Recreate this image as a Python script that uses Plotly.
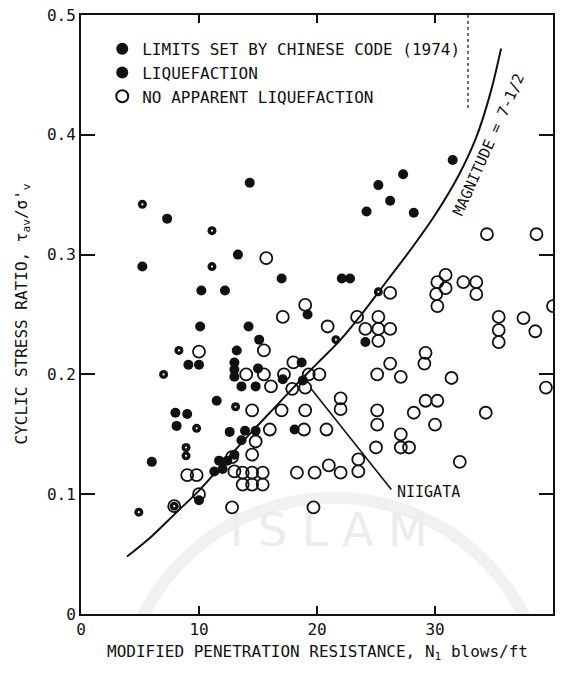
import plotly.graph_objects as go

# Modified SPT resistance N1 (blows/ft) and cyclic stress ratio for each site
liq_n = [5.2, 7.3, 6.0, 10.2, 12.2, 13.3, 10.1, 14.2, 14.3, 15.1, 13.2, 9.1, 10.0,
         13.0, 13.0, 13.0, 15.0, 13.6, 14.8, 11.5, 8.0, 9.0, 8.1, 12.6, 13.9, 14.8,
         13.0, 11.7, 11.3, 12.0, 12.4, 10.0, 17.0, 19.2, 22.1, 22.8, 24.1, 17.1,
         18.7, 18.8, 18.1, 25.2, 27.3, 26.2, 24.2, 28.2, 31.5, 13.6]
liq_r = [0.29, 0.33, 0.127, 0.27, 0.27, 0.30, 0.24, 0.24, 0.36, 0.229, 0.22, 0.208, 0.208,
         0.21, 0.204, 0.198, 0.205, 0.19, 0.19, 0.178, 0.168, 0.167, 0.157, 0.152, 0.153, 0.153,
         0.133, 0.128, 0.119, 0.121, 0.128, 0.095, 0.28, 0.25, 0.28, 0.28, 0.227, 0.196,
         0.21, 0.195, 0.154, 0.358, 0.367, 0.345, 0.336, 0.335, 0.379, 0.145]

code_n = [5.2, 11.1, 11.1, 8.3, 7.0, 8.9, 8.9, 9.8, 7.9, 4.9, 21.6, 25.2, 13.1]
code_r = [0.342, 0.32, 0.29, 0.22, 0.20, 0.139, 0.132, 0.155, 0.09, 0.085, 0.229, 0.269, 0.173]

none_n = [15.7, 19.0, 17.1, 20.9, 23.4, 26.2,
          24.1, 25.2, 26.2, 25.2, 25.2,
          30.9, 30.2, 30.9, 30.1, 30.2,
          32.4, 33.5, 33.5,
          34.4, 38.6, 40.0,
          35.4, 35.4, 35.4, 37.5, 38.5,
          29.2, 29.1, 26.2, 25.1, 27.1, 31.4, 39.4,
          29.2, 30.2, 28.2, 34.3, 30.0,
          25.1, 25.1, 25.0,
          27.1, 27.1, 27.8,
          32.1, 23.5, 23.5, 21.0, 22.0, 18.3, 19.8,
          20.8, 18.9, 16.0, 14.8, 14.5, 12.8,
          13.0, 13.7, 14.5, 15.4, 13.7, 14.5, 15.4,
          19.7, 12.8,
          14.5, 17.0, 19.0, 22.0, 22.0,
          10.0, 9.0, 9.8, 10.0, 7.9,
          14.0, 15.5, 17.2, 18.0, 19.3, 20.2, 19.0, 17.9, 16.1, 15.5]
none_r = [0.297, 0.258, 0.248, 0.24, 0.248, 0.268,
          0.238, 0.248, 0.238, 0.228, 0.238,
          0.283, 0.277, 0.272, 0.267, 0.257,
          0.277, 0.277, 0.267,
          0.317, 0.317, 0.257,
          0.248, 0.237, 0.227, 0.247, 0.236,
          0.218, 0.209, 0.209, 0.20, 0.198, 0.197, 0.189,
          0.178, 0.178, 0.168, 0.168, 0.158,
          0.17, 0.158, 0.139,
          0.15, 0.139, 0.139,
          0.127, 0.129, 0.119, 0.124, 0.118, 0.118, 0.118,
          0.154, 0.154, 0.154, 0.144, 0.133, 0.131,
          0.119, 0.118, 0.118, 0.118, 0.108, 0.108, 0.108,
          0.089, 0.089,
          0.17, 0.17, 0.17, 0.18, 0.171,
          0.219, 0.116, 0.116, 0.10, 0.09,
          0.20, 0.20, 0.20, 0.21, 0.20, 0.20, 0.189, 0.188, 0.19, 0.22]

# Boundary curve for magnitude 7-1/2 earthquakes
curve_n = [3.9, 6.0, 8.0, 10.0, 12.0, 14.0, 16.0, 18.0, 20.0, 22.0, 24.0, 26.0,
           28.0, 30.0, 32.0, 33.5, 34.7, 35.6]
curve_r = [0.048, 0.065, 0.084, 0.103, 0.125, 0.147, 0.168, 0.189, 0.209, 0.229, 0.253,
           0.279, 0.305, 0.333, 0.366, 0.398, 0.435, 0.472]

# Leader line to the Niigata point
niigata_n = [19.5, 26.3]
niigata_r = [0.188, 0.104]

# Dotted marker line near the top edge
dotted_n = [32.8, 32.8]
dotted_r = [0.5, 0.42]

# Watermark lettering position
mark_n = [21.0]
mark_r = [0.066]
mark_text = ["I S L A M"]

x_ticks = [0, 10, 20, 30, 40]
x_labels = ["0", "10", "20", "30", "40"]
y_ticks = [0, 0.1, 0.2, 0.3, 0.4, 0.5]
y_labels = ["0", "0.1", "0.2", "0.3", "0.4", "0.5"]

FONT = "DejaVu Sans Mono"
INK = "#111111"
FAINT = "#ececec"

fig = go.Figure()

# faint watermark ring and lettering drawn first so the data sits on top
fig.add_shape(type="circle", xref="x", yref="y", x0=3.3, x1=39.5, y0=-0.262, y1=0.097,
              line=dict(color="#f1f1f1", width=12), layer="below")
fig.add_trace(go.Scatter(
    x=mark_n, y=mark_r, mode="text", text=mark_text, showlegend=False, hoverinfo="skip",
    textfont=dict(family="DejaVu Sans", size=46, color=FAINT)))

fig.add_trace(go.Scatter(
    x=curve_n, y=curve_r, mode="lines", line=dict(color=INK, width=2, shape="spline"),
    showlegend=False, hoverinfo="skip"))
fig.add_trace(go.Scatter(
    x=niigata_n, y=niigata_r, mode="lines", line=dict(color=INK, width=1.6),
    showlegend=False, hoverinfo="skip"))
fig.add_trace(go.Scatter(
    x=dotted_n, y=dotted_r, mode="lines", line=dict(color=INK, width=1.2, dash="dot"),
    showlegend=False, hoverinfo="skip"))

fig.add_trace(go.Scatter(
    x=code_n, y=code_r, mode="markers", name="LIMITS SET BY CHINESE CODE (1974)",
    marker=dict(symbol="circle", size=9, color=INK, line=dict(width=0))))
fig.add_trace(go.Scatter(
    x=liq_n, y=liq_r, mode="markers", name="LIQUEFACTION",
    marker=dict(symbol="circle", size=10, color=INK, line=dict(width=0))))
fig.add_trace(go.Scatter(
    x=none_n, y=none_r, mode="markers", name="NO APPARENT LIQUEFACTION",
    marker=dict(symbol="circle-open", size=12, color=INK, line=dict(width=1.8))))
# small light spot inside the Chinese-code markers
fig.add_trace(go.Scatter(
    x=code_n, y=code_r, mode="markers", showlegend=False, hoverinfo="skip",
    marker=dict(symbol="circle", size=2.2, color="white", line=dict(width=0))))

fig.add_annotation(
    x=34.6, y=0.392, xref="x", yref="y", text="MAGNITUDE = 7-1/2", showarrow=False,
    textangle=-66, font=dict(family=FONT, size=15, color=INK))
fig.add_annotation(
    x=26.6, y=0.102, xref="x", yref="y", text="NIIGATA", showarrow=False,
    xanchor="left", yanchor="middle", font=dict(family=FONT, size=15, color=INK))

fig.add_annotation(
    x=0.5, y=-0.065, xref="paper", yref="paper",
    text="MODIFIED PENETRATION RESISTANCE, N<sub>1</sub> blows/ft", showarrow=False,
    xanchor="center", yanchor="middle", font=dict(family=FONT, size=16, color=INK))
fig.add_annotation(
    x=-0.125, y=0.5, xref="paper", yref="paper",
    text="CYCLIC STRESS RATIO, τ<sub>av</sub>/σ'<sub>v</sub>", showarrow=False,
    textangle=-90, xanchor="center", yanchor="middle",
    font=dict(family=FONT, size=16, color=INK))

fig.update_xaxes(
    range=[0, 40], tickvals=x_ticks, ticktext=x_labels, showgrid=False, zeroline=False,
    showline=True, linecolor=INK, linewidth=2, mirror="ticks", ticks="inside",
    ticklen=8, tickwidth=1.5, tickcolor=INK,
    tickfont=dict(family=FONT, size=16, color=INK))
fig.update_yaxes(
    range=[0, 0.5], tickvals=y_ticks, ticktext=y_labels, showgrid=False, zeroline=False,
    showline=True, linecolor=INK, linewidth=2, mirror="ticks", ticks="inside",
    ticklen=14, tickwidth=1.5, tickcolor=INK,
    tickfont=dict(family=FONT, size=16, color=INK))

fig.update_layout(
    width=561, height=673,
    margin=dict(l=81, r=6, t=13, b=59),
    paper_bgcolor="white", plot_bgcolor="white",
    legend=dict(x=0.045, y=0.972, xanchor="left", yanchor="top",
                bgcolor="rgba(0,0,0,0)", borderwidth=0,
                font=dict(family=FONT, size=16, color=INK), itemsizing="constant"),
)

fig.write_html("out.html")
